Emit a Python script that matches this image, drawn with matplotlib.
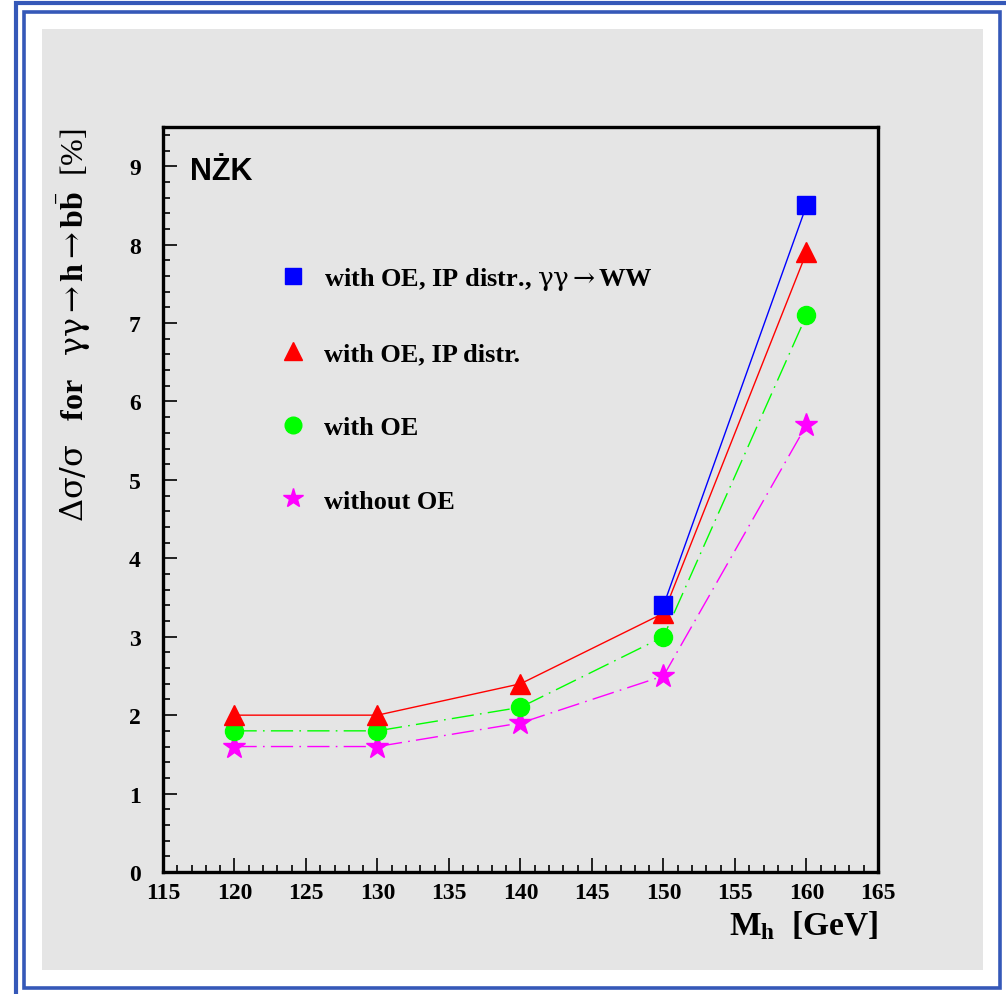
import numpy as np
import matplotlib.pyplot as plt
from matplotlib.lines import Line2D
from matplotlib.patches import Rectangle
from matplotlib.ticker import MultipleLocator

plt.rcParams['font.family'] = ['Liberation Serif', 'DejaVu Serif']
plt.rcParams['mathtext.fontset'] = 'custom'
plt.rcParams['mathtext.rm'] = 'Liberation Serif'
plt.rcParams['mathtext.it'] = 'Liberation Serif:italic'
plt.rcParams['mathtext.bf'] = 'Liberation Serif:bold'
plt.rcParams['mathtext.sf'] = 'DejaVu Serif'

# data
mass = [120, 130, 140, 150, 160]
mass_ww = [150, 160]
with_ww = [3.4, 8.5]
with_ip = [2.0, 2.0, 2.4, 3.3, 7.9]
with_oe = [1.8, 1.8, 2.1, 3.0, 7.1]
without_oe = [1.6, 1.6, 1.9, 2.5, 5.7]

arrow = r'\mathsf{\rightarrow}'
labels = [r'with OE, IP distr., $\mathsf{\gamma\gamma}' + arrow + r'$WW',
          'with OE, IP distr.', 'with OE', 'without OE']
ylabel = (r'$\mathsf{\Delta\sigma/\sigma}$   for   '
          r'$\mathsf{\gamma\gamma}' + arrow + r'\mathbf{h}' + arrow +
          r'\mathbf{b}\bar{\mathbf{b}}$  $\mathrm{[\%]}$')

W, H = 1006, 995
gray = '#e5e5e5'
frame_blue = '#3558b8'

fig = plt.figure(figsize=(W / 100, H / 100), dpi=100)

def px_rect(x0, y0, x1, y1, **kw):
    # rectangle given in image pixels (y down)
    r = Rectangle((x0 / W, 1 - y1 / H), (x1 - x0) / W, (y1 - y0) / H,
                  transform=fig.transFigure, zorder=-10, **kw)
    fig.patches.append(r)

px_rect(15.5, 4.3, 1020, 1010, fill=False, ec=frame_blue, lw=3.0)
px_rect(23.6, 12.5, 1000.5, 988.5, fill=False, ec=frame_blue, lw=2.6)
px_rect(41.7, 30, 983, 971, fc=gray, ec='none')

ax = fig.add_axes([163 / W, 1 - 873 / H, (878 - 163) / W, (873 - 128) / H])
ax.set_facecolor(gray)

dashdot = (0, (16, 4.5, 1.2, 4.5))
ax.plot(mass, without_oe, color='#ff00ff', lw=1.0, ls=dashdot,
        marker='*', ms=17, mec='#ff00ff', mfc='#ff00ff')
ax.plot(mass, with_oe, color='#00ff00', lw=1.0, ls=dashdot,
        marker='o', ms=13, mec='#00ff00', mfc='#00ff00')
ax.plot(mass, with_ip, color='#ff0000', lw=1.0, ls='-',
        marker='^', ms=14, mec='#ff0000', mfc='#ff0000')
ax.plot(mass_ww, with_ww, color='#0000ff', lw=1.0, ls='-',
        marker='s', ms=13, mec='#0000ff', mfc='#0000ff')

ax.set_xlim(115, 165)
ax.set_ylim(0, 9.5)
ax.xaxis.set_major_locator(MultipleLocator(5))
ax.xaxis.set_minor_locator(MultipleLocator(1))
ax.yaxis.set_major_locator(MultipleLocator(1))
ax.yaxis.set_minor_locator(MultipleLocator(0.2))
ax.tick_params(which='both', direction='in', top=False, right=False,
               width=1.2, colors='black')
ax.tick_params(which='major', length=10)
ax.tick_params(which='minor', length=5)
ax.tick_params(axis='x', which='major', pad=7, labelsize=17)
ax.tick_params(axis='y', which='major', pad=16, labelsize=17)
for lab in ax.get_xticklabels() + ax.get_yticklabels():
    lab.set_fontweight('bold')
for sp in ax.spines.values():
    sp.set_linewidth(2.4)

handles = [
    Line2D([], [], ls='none', marker='s', ms=12, color='#0000ff'),
    Line2D([], [], ls='none', marker='^', ms=13, color='#ff0000'),
    Line2D([], [], ls='none', marker='o', ms=12, color='#00ff00'),
    Line2D([], [], ls='none', marker='*', ms=15, color='#ff00ff'),
]
ax.legend(handles, labels, loc='upper left', bbox_to_anchor=(0.163, 0.815),
          frameon=False, borderpad=0, borderaxespad=0, handlelength=1.0,
          handletextpad=0.7, labelspacing=1.9,
          prop={'family': 'Liberation Serif', 'weight': 'bold', 'size': 19})

ax.text(0.038, 0.941, 'NŻK', transform=ax.transAxes, ha='left', va='center',
        fontsize=22, fontweight='bold', family='Liberation Sans')

ax.text(1.0, -0.083, r'M$_{\mathbf{h}}$  [GeV]', transform=ax.transAxes,
        ha='right', va='baseline', fontsize=24, fontweight='bold')
ax.text(-0.124, 1.0, ylabel, transform=ax.transAxes, rotation=90,
        ha='center', va='top', fontsize=23, fontweight='bold')

fig.savefig('out.png', dpi=100)
